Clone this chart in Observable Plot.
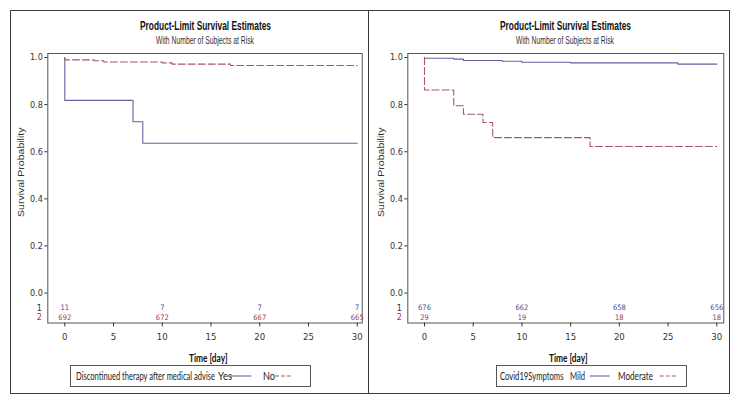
<!DOCTYPE html>
<html><head><meta charset="utf-8">
<script src="https://cdn.jsdelivr.net/npm/d3@7"></script>
<script src="https://cdn.jsdelivr.net/npm/@observablehq/plot@0.6"></script>
<style>
body{margin:0;background:#fff;}
#root{position:relative;width:737px;height:403px;overflow:hidden;font-family:"Liberation Sans",Arial,sans-serif;background:#fff;}
.panel{position:absolute;border:1.5px solid #3a3a3a;box-sizing:border-box;}
.t{position:absolute;white-space:nowrap;transform-origin:0 50%;line-height:1;}
.box{position:absolute;border:1px solid #555;box-sizing:border-box;}
#root svg{position:absolute;top:0;}
</style></head><body><div id="root"></div>
<script>
// ---------- data ----------
const xTicks = [0, 5, 10, 15, 20, 25, 30];
const yTicks = [0, 0.2, 0.4, 0.6, 0.8, 1.0];
const riskTimes = [0, 10, 20, 30];

// Left panel: Discontinued therapy after medical advise
const leftTitle = "Product-Limit Survival Estimates";
const leftSub = "With Number of Subjects at Risk";
const leftLegendTitle = "Discontinued therapy after medical advise";
const leftGroups = ["Yes", "No"];
const yesTime = [0, 0, 7, 8, 30];
const yesSurv = [1.0, 0.818, 0.727, 0.636, 0.636];
const noTime = [0, 0, 3, 4, 10, 11, 17, 30];
const noSurv = [1.0, 0.990, 0.986, 0.981, 0.977, 0.972, 0.966, 0.965];
const yesRisk = [11, 7, 7, 7];
const noRisk = [692, 672, 667, 665];

// Right panel: Covid19 Symptoms
const rightLegendTitle = "Covid19Symptoms";
const rightGroups = ["Mild", "Moderate"];
const mildTime = [0, 0, 3, 4, 8, 10, 15, 26, 30];
const mildSurv = [1.0, 0.997, 0.993, 0.987, 0.984, 0.980, 0.977, 0.972, 0.972];
const modTime = [0, 0, 3, 4, 6, 7, 17, 30];
const modSurv = [1.0, 0.862, 0.795, 0.759, 0.724, 0.660, 0.622, 0.622];
const mildRisk = [676, 662, 658, 656];
const modRisk = [29, 19, 18, 18];

const yLabel = "Survival Probability";
const xLabel = "Time [day]";

// ---------- styles ----------
const BLUE = "#62649f";
const RED = "#a8566a";
const BLUE_T = "#4a4c9a";
const RED_T = "#a03a4a";
const NARROW = "'Liberation Sans Narrow','Arial Narrow','DejaVu Sans Condensed','Liberation Sans',sans-serif";
const root = document.getElementById("root");

function km(t, s) { return t.map((d, i) => ({t: d, s: s[i]})); }
function risk(n) { return riskTimes.map((t, i) => ({t, n: String(n[i])})); }

const ROW1 = -0.062, ROW2 = -0.104;

function panelPlot(cfg) {
  const svg = Plot.plot({
    width: cfg.w, height: 403,
    marginLeft: cfg.ml, marginRight: cfg.mr, marginTop: 53, marginBottom: 80.5,
    x: {domain: cfg.xd},
    y: {domain: [-0.127, 1.017]},
    style: {background: "transparent", fontFamily: NARROW, fontSize: "9px", color: "#333", overflow: "visible"},
    marks: [
      Plot.frame({stroke: "#555", strokeWidth: 1}),
      Plot.axisX({ticks: xTicks, tickSize: 4, tickPadding: 6, label: null, fontSize: 9.5}),
      Plot.axisY({ticks: yTicks, tickFormat: d3.format(".1f"), tickSize: 3, tickPadding: 2, label: null, fontSize: 9}),
      Plot.line(km(cfg.aT, cfg.aS), {x: "t", y: "s", curve: "step-after", stroke: BLUE, strokeWidth: 1.1}),
      Plot.line(km(cfg.bT, cfg.bS), {x: "t", y: "s", curve: "step-after", stroke: RED, strokeWidth: 1.1, strokeDasharray: "7,3"}),
      Plot.text(risk(cfg.aR), {x: "t", y: () => ROW1, text: "n", fill: BLUE_T, fontSize: 7.5}),
      Plot.text(risk(cfg.bR), {x: "t", y: () => ROW2, text: "n", fill: RED_T, fontSize: 7.5}),
      Plot.text(["1"], {frameAnchor: "left", y: () => ROW1, text: d => d, dx: -6, textAnchor: "end", fill: "#333", fontSize: 9}),
      Plot.text(["2"], {frameAnchor: "left", y: () => ROW2, text: d => d, dx: -6, textAnchor: "end", fill: RED_T, fontSize: 9})
    ]
  });
  svg.style.left = cfg.left + "px";
  root.appendChild(svg);
}

function place(text, o) {
  const s = document.createElement("span");
  s.className = "t";
  s.textContent = text;
  s.style.fontSize = o.size + "px";
  s.style.fontWeight = o.weight || "normal";
  s.style.color = o.color || "#222";
  if (o.font) s.style.fontFamily = o.font;
  root.appendChild(s);
  const r = s.getBoundingClientRect();
  const k = o.w ? o.w / r.width : 1;
  const w = r.width * k;
  const left = o.anchor === "middle" ? o.x - w / 2 : o.x;
  s.style.left = left + "px";
  s.style.top = (o.y - r.height / 2) + "px";
  s.style.transform = `scaleX(${k})`;
  return s;
}

function div(cls, l, t, w, h) {
  const d = document.createElement("div");
  d.className = cls;
  Object.assign(d.style, {left: l + "px", top: t + "px", width: w + "px", height: h + "px"});
  root.appendChild(d);
  return d;
}

// panel borders
div("panel", 10, 10, 359, 384);
div("panel", 368, 10, 362, 384);

panelPlot({left: 0, w: 368, ml: 47.3, mr: 6.3, xd: [-1.744, 30.51],
  aT: yesTime, aS: yesSurv, bT: noTime, bS: noSurv, aR: yesRisk, bR: noRisk});
panelPlot({left: 368, w: 369, ml: 39.3, mr: 13.7, xd: [-1.714, 30.72],
  aT: mildTime, aS: mildSurv, bT: modTime, bS: modSurv, aR: mildRisk, bR: modRisk});

// titles
const CAL = "Lato,'Open Sans',sans-serif";
[[205.3, 0], [565, 1]].forEach(([cx]) => {
  place(leftTitle, {x: cx, y: 26, w: 131, anchor: "middle", size: 12.5, weight: "bold", color: "#111"});
  place(leftSub, {x: cx, y: 41, w: 98, anchor: "middle", size: 10, color: "#333"});
});
place(xLabel, {x: 208.5, y: 357.5, w: 38.5, anchor: "middle", size: 11.5, weight: "bold", font: CAL, color: "#111"});
place(xLabel, {x: 568.5, y: 357.5, w: 38.5, anchor: "middle", size: 11.5, weight: "bold", font: CAL, color: "#111"});

// y labels (rotated)
[[21, 172], [381, 172]].forEach(([cx, cy]) => {
  const s = document.createElement("span");
  s.className = "t";
  s.textContent = yLabel;
  s.style.fontSize = "10.5px";
  s.style.color = "#333";
  root.appendChild(s);
  const r = s.getBoundingClientRect();
  s.style.transformOrigin = "50% 50%";
  s.style.left = (cx - r.width / 2) + "px";
  s.style.top = (cy - r.height / 2) + "px";
  s.style.transform = "rotate(-90deg) scaleY(0.8)";
});

// legends
div("box", 69.5, 365, 241, 22);
div("box", 495.5, 365, 191.5, 22);
const LY = 376;
place(leftLegendTitle, {x: 76, y: LY, w: 139, size: 12, font: CAL, color: "#222"});
place(leftGroups[0], {x: 218, y: LY, w: 14, size: 12, font: CAL, color: "#222"});
place(leftGroups[1], {x: 262.5, y: LY, w: 12, size: 12, font: CAL, color: "#222"});
place(rightLegendTitle, {x: 499.7, y: LY, w: 63.5, size: 12, font: CAL, color: "#222"});
place(rightGroups[0], {x: 569.5, y: LY, w: 15, size: 12, font: CAL, color: "#222"});
place(rightGroups[1], {x: 618, y: LY, w: 35, size: 12, font: CAL, color: "#222"});

const ns = "http://www.w3.org/2000/svg";
const ov = document.createElementNS(ns, "svg");
ov.setAttribute("width", 737); ov.setAttribute("height", 403);
ov.style.left = "0px"; ov.style.pointerEvents = "none";
function seg(x1, x2, color, dash) {
  const l = document.createElementNS(ns, "line");
  l.setAttribute("x1", x1); l.setAttribute("x2", x2);
  l.setAttribute("y1", LY); l.setAttribute("y2", LY);
  l.setAttribute("stroke", color); l.setAttribute("stroke-width", 1.1);
  if (dash) l.setAttribute("stroke-dasharray", dash);
  ov.appendChild(l);
}
seg(230, 251.5, BLUE);
seg(275, 293, RED, "4,2");
seg(589.7, 609.7, BLUE);
seg(659.7, 676.3, RED, "4,2");
root.appendChild(ov);
</script></body></html>
